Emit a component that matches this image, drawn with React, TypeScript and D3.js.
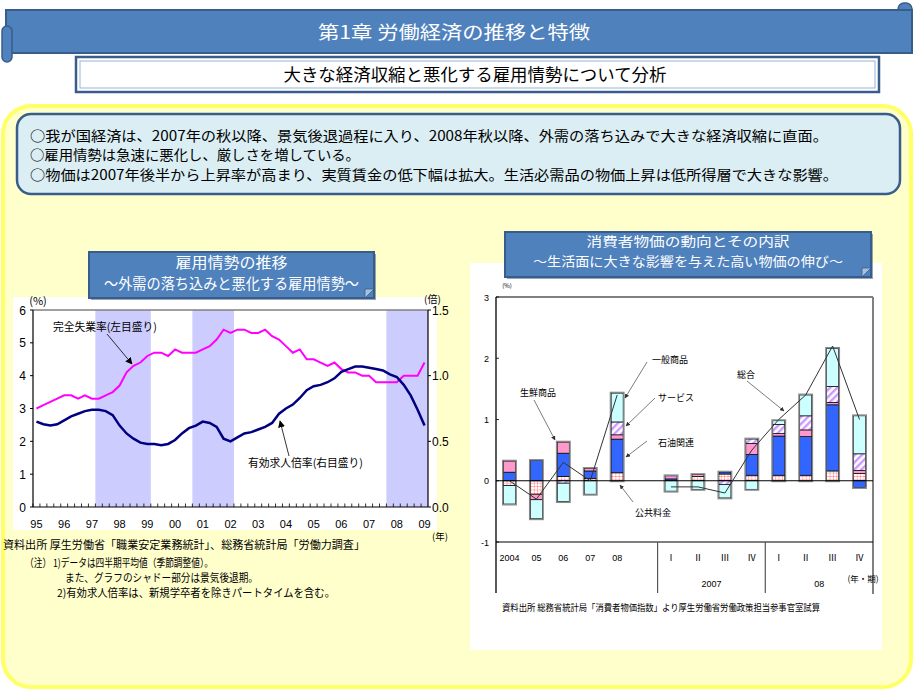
import * as d3 from 'd3';

const JP = '"Noto Sans CJK JP", "Noto Sans", sans-serif';
const NUM = '"Liberation Sans", Arial, sans-serif';

// ---- left chart: 雇用情勢の推移 (quarterly, 1995Q1 - 2009Q1)
const yearLabels = ['95', '96', '97', '98', '99', '00', '01', '02', '03', '04', '05', '06', '07', '08', '09'];
const unemploymentRate = [
  3.0, 3.1, 3.2, 3.3,
  3.4, 3.4, 3.3, 3.4,
  3.3, 3.3, 3.4, 3.5,
  3.7, 4.1, 4.3, 4.4,
  4.6, 4.7, 4.7, 4.6,
  4.8, 4.7, 4.7, 4.7,
  4.8, 4.9, 5.1, 5.4,
  5.3, 5.4, 5.4, 5.3,
  5.3, 5.4, 5.2, 5.1,
  4.9, 4.7, 4.8, 4.5,
  4.5, 4.4, 4.3, 4.4,
  4.2, 4.1, 4.1, 4.0,
  4.0, 3.8, 3.8, 3.8,
  3.8, 4.0, 4.0, 4.0,
  4.4,
];
const jobOpeningsRatio = [
  0.65, 0.63, 0.62, 0.63,
  0.66, 0.69, 0.71, 0.73,
  0.74, 0.74, 0.73, 0.7,
  0.62, 0.56, 0.52, 0.49,
  0.48, 0.48, 0.47, 0.48,
  0.51, 0.56, 0.6, 0.62,
  0.65, 0.64, 0.61, 0.52,
  0.5, 0.53, 0.56, 0.57,
  0.59, 0.61, 0.64, 0.71,
  0.75, 0.78, 0.83, 0.89,
  0.92, 0.93, 0.95, 0.98,
  1.03, 1.05, 1.07, 1.07,
  1.06, 1.05, 1.04, 1.01,
  0.99, 0.93, 0.85, 0.74,
  0.62,
];
const recessionPeriods: [string, string][] = [
  ['97Q2', '99Q1'],
  ['00Q4', '02Q1'],
  ['07Q4', '09Q1'],
];
const leftTicks = [0, 1, 2, 3, 4, 5, 6];
const rightTicks = [0, 0.5, 1.0, 1.5];

// ---- right chart: 消費者物価の動向とその内訳
const cpiKeys = ['2004', '05', '06', '07', '08', 'gap', '07Q1', '07Q2', '07Q3', '07Q4', '08Q1', '08Q2', '08Q3', '08Q4'];
const cpiLabels = ['2004', '05', '06', '07', '08', '', 'Ⅰ', 'Ⅱ', 'Ⅲ', 'Ⅳ', 'Ⅰ', 'Ⅱ', 'Ⅲ', 'Ⅳ'];
const publicFees = [-0.08, -0.22, 0.07, 0.04, 0.13, 0, 0, 0.07, 0.11, 0.09, 0.09, 0.09, 0.16, 0.12];
const oilRelated = [0.14, 0.33, 0.38, 0.12, 0.55, 0, 0.03, 0, 0.03, 0.34, 0.64, 0.63, 1.08, -0.11];
const freshFood = [0.18, -0.09, 0.18, 0.04, 0.07, 0, 0.05, 0.03, 0, 0.18, 0.04, 0.11, 0.04, 0.05];
const services = [0, 0, -0.04, 0, 0.21, 0, 0, 0, -0.06, 0.07, 0.15, 0.23, 0.26, 0.27];
const generalGoods = [-0.3, -0.31, -0.3, -0.22, 0.47, 0, -0.17, -0.14, -0.22, -0.14, 0.06, 0.34, 0.62, 0.62];
const annualKeys = ['2004', '05', '06', '07', '08'];
const totalAnnual = [0.0, -0.3, 0.3, 0.0, 1.4];
const quarterCpiKeys = ['07Q1', '07Q2', '07Q3', '07Q4', '08Q1', '08Q2', '08Q3', '08Q4'];
const totalQuarterly = [-0.1, -0.1, -0.2, 0.5, 1.0, 1.4, 2.2, 1.0];
const cpiTicks = [-1, 0, 1, 2, 3];

const quarterKeys = yearLabels
  .flatMap((y) => ['Q1', 'Q2', 'Q3', 'Q4'].map((q) => y + q))
  .slice(0, unemploymentRate.length);

function LeftChart() {
  const x = d3.scaleBand<string>().domain(quarterKeys).range([33, 428]);
  const bw = x.bandwidth();
  const mid = (k: string) => (x(k) as number) + bw / 2;
  const y = d3.scaleLinear().domain([0, 6]).range([507, 310]);
  const yr = d3.scaleLinear().domain([0, 1.5]).range([507, 310]);

  const uLine = d3.line<number>().x((_, i) => mid(quarterKeys[i])).y((d) => y(d));
  const jLine = d3.line<number>().x((_, i) => mid(quarterKeys[i])).y((d) => yr(d));

  return (
    <g>
      <rect x={13} y={297} width={424} height={233} fill="#fff" />
      {recessionPeriods.map(([a, b]) => (
        <rect
          key={a}
          x={x(a)}
          y={310}
          width={(x(b) as number) + bw - (x(a) as number)}
          height={197}
          fill="#CCCCFF"
        />
      ))}
      <line x1={33} x2={428} y1={310} y2={310} stroke="#808080" strokeWidth={1.5} />
      {quarterKeys.map((k) => (
        <line key={k} x1={x(k)} x2={x(k)} y1={507} y2={503.5} stroke="#000" strokeWidth={0.8} />
      ))}
      <path d={uLine(unemploymentRate) || ''} fill="none" stroke="#FF00FF" strokeWidth={2} />
      <path d={jLine(jobOpeningsRatio) || ''} fill="none" stroke="#000080" strokeWidth={2.5} />

      <line x1={33} x2={33} y1={310} y2={507} stroke="#000" strokeWidth={1.2} />
      <line x1={428} x2={428} y1={310} y2={507} stroke="#000" strokeWidth={1.2} />
      <line x1={33} x2={428} y1={507} y2={507} stroke="#000" strokeWidth={1.2} />

      {leftTicks.map((t) => (
        <g key={t}>
          <line x1={30} x2={33} y1={y(t)} y2={y(t)} stroke="#000" />
          <text x={26} y={y(t) + 4.5} textAnchor="end" fontSize={12} fontFamily={NUM}>{t}</text>
        </g>
      ))}
      {rightTicks.map((t) => (
        <g key={t}>
          <line x1={428} x2={431} y1={yr(t)} y2={yr(t)} stroke="#000" />
          <text x={432} y={yr(t) + 4.5} fontSize={12} fontFamily={NUM}>{t.toFixed(1)}</text>
        </g>
      ))}
      {yearLabels.map((yl) => (
        <text key={yl} x={mid(yl + 'Q1')} y={528} textAnchor="middle" fontSize={11} fontFamily={NUM}>{yl}</text>
      ))}
      <text x={38} y={305} textAnchor="middle" fontSize={11} fontFamily={JP}>(%)</text>
      <text x={424} y={303} fontSize={10} fontFamily={JP}>(倍)</text>
      <text x={440} y={540} textAnchor="middle" fontSize={9.5} fontFamily={JP}>(年)</text>

      <text x={53} y={331} fontSize={11} fontFamily={JP} textLength={104} lengthAdjust="spacingAndGlyphs">完全失業率(左目盛り)</text>
      <line x1={107} y1={334} x2={132} y2={364} stroke="#000" strokeWidth={0.8} markerEnd="url(#arrowBig)" />
      <text x={248} y={467} fontSize={11} fontFamily={JP} textLength={115} lengthAdjust="spacingAndGlyphs">有効求人倍率(右目盛り)</text>
      <line x1={289} y1={456} x2={280} y2={421} stroke="#000" strokeWidth={0.8} markerEnd="url(#arrowBig)" />
    </g>
  );
}

function RightChart() {
  const x = d3.scaleBand<string>().domain(cpiKeys).range([496, 873]);
  const bw = x.bandwidth();
  const barW = 12;
  const mid = (k: string) => (x(k) as number) + bw / 2;
  const y = d3.scaleLinear().domain([-1, 3]).range([542, 297]);

  const compKeys = ['publicFees', 'oil', 'fresh', 'services', 'general'];
  const fills: Record<string, string> = {
    publicFees: 'url(#gridPat)',
    oil: '#3366FF',
    fresh: '#FF99CC',
    services: 'url(#hatchPat)',
    general: '#CCFFFF',
  };
  const rows = cpiKeys.map((k, i) => ({
    key: k,
    publicFees: publicFees[i],
    oil: oilRelated[i],
    fresh: freshFood[i],
    services: services[i],
    general: generalGoods[i],
  }));
  const series = d3.stack<any>().keys(compKeys).offset(d3.stackOffsetDiverging)(rows);

  const totalLine = d3.line<[string, number]>().x((d) => mid(d[0])).y((d) => y(d[1]));
  const annualPts = annualKeys.map((k, i) => [k, totalAnnual[i]] as [string, number]);
  const quarterPts = quarterCpiKeys.map((k, i) => [k, totalQuarterly[i]] as [string, number]);

  const labelStyle = { fontSize: 9, fontFamily: JP };

  return (
    <g>
      <rect x={470} y={263} width={412} height={387} fill="#fff" />
      <line x1={496} x2={873} y1={297} y2={297} stroke="#808080" strokeWidth={2} />
      <line x1={873} x2={873} y1={297} y2={594} stroke="#808080" strokeWidth={2} />

      {series.map((s) => (
        <g key={s.key}>
          {s.map((d, i) =>
            cpiKeys[i] === 'gap' || d[0] === d[1] ? null : (
              <rect
                key={cpiKeys[i]}
                x={mid(cpiKeys[i]) - barW / 2}
                y={y(Math.max(d[0], d[1]))}
                width={barW}
                height={Math.abs(y(d[0]) - y(d[1]))}
                fill={fills[s.key]}
                stroke="#000"
                strokeWidth={0.7}
              />
            )
          )}
        </g>
      ))}
      {cpiKeys.map((k, i) => {
        if (k === 'gap') return null;
        const lo = d3.min(series, (s) => Math.min(s[i][0], s[i][1])) as number;
        const hi = d3.max(series, (s) => Math.max(s[i][0], s[i][1])) as number;
        return (
          <rect
            key={k}
            x={mid(k) - barW / 2 - 0.8}
            y={y(hi) - 0.8}
            width={barW + 1.6}
            height={y(lo) - y(hi) + 1.6}
            fill="none"
            stroke="#888"
            strokeWidth={1.3}
          />
        );
      })}

      <line x1={496} x2={873} y1={y(0)} y2={y(0)} stroke="#000" strokeWidth={1.2} />
      <line x1={496} x2={873} y1={y(-1)} y2={y(-1)} stroke="#000" strokeWidth={1.2} />
      <line x1={496} x2={496} y1={297} y2={593} stroke="#000" strokeWidth={1.3} />
      {['07Q1', '08Q1'].map((k) => (
        <line key={k} x1={x(k)} x2={x(k)} y1={y(-1)} y2={593} stroke="#555" strokeWidth={1.2} />
      ))}

      <path d={totalLine(annualPts) || ''} fill="none" stroke="#333" strokeWidth={1} />
      <path d={totalLine(quarterPts) || ''} fill="none" stroke="#333" strokeWidth={1} />

      {cpiTicks.map((t) => (
        <g key={t}>
          <line x1={496} x2={499} y1={y(t)} y2={y(t)} stroke="#000" strokeWidth={0.8} />
          <text x={489} y={y(t) + 3.5} textAnchor="end" fontSize={9} fontFamily={NUM}>{t}</text>
        </g>
      ))}
      <text x={507} y={288} textAnchor="middle" fontSize={6} fontFamily={JP}>(%)</text>
      {cpiKeys.map((k, i) => (
        <text key={k} x={mid(k)} y={561} textAnchor="middle" fontSize={9} fontFamily={k.includes('Q') ? JP : NUM}>
          {cpiLabels[i]}
        </text>
      ))}
      <text x={((x('07Q1') as number) + (x('07Q4') as number) + bw) / 2} y={587} textAnchor="middle" fontSize={9} fontFamily={NUM}>2007</text>
      <text x={((x('08Q1') as number) + (x('08Q4') as number) + bw) / 2} y={587} textAnchor="middle" fontSize={9} fontFamily={NUM}>08</text>
      <text x={863} y={582} textAnchor="middle" fontSize={8.5} fontFamily={JP}>(年・期)</text>

      <text x={652} y={363} {...labelStyle}>一般商品</text>
      <line x1={647} y1={362} x2={625} y2={398} stroke="#444" strokeWidth={0.7} markerEnd="url(#arrowSmall)" />
      <text x={658} y={401} {...labelStyle}>サービス</text>
      <line x1={655} y1={398} x2={626} y2={426} stroke="#444" strokeWidth={0.7} markerEnd="url(#arrowSmall)" />
      <text x={658} y={446} {...labelStyle}>石油関連</text>
      <line x1={647} y1={441} x2={626} y2={457} stroke="#444" strokeWidth={0.7} markerEnd="url(#arrowSmall)" />
      <text x={520} y={396} {...labelStyle}>生鮮商品</text>
      <line x1={534} y1={400} x2={555} y2={440} stroke="#444" strokeWidth={0.7} markerEnd="url(#arrowSmall)" />
      <text x={635} y={516} {...labelStyle}>公共料金</text>
      <line x1={633} y1={502} x2={620} y2={485} stroke="#444" strokeWidth={0.7} markerEnd="url(#arrowSmall)" />
      <text x={737} y={378} {...labelStyle}>総合</text>
      <line x1={747} y1={381} x2={784} y2={411} stroke="#444" strokeWidth={0.7} markerEnd="url(#arrowSmall)" />

      <text x={502} y={611} fontSize={9.5} fontFamily={JP} textLength={318} lengthAdjust="spacingAndGlyphs">
        資料出所  総務省統計局「消費者物価指数」より厚生労働省労働政策担当参事官室試算
      </text>
    </g>
  );
}

function TitleBox({ x, y, w, h, lines }: { x: number; y: number; w: number; h: number; lines: { text: string; dy: number; len: number; size: number }[] }) {
  return (
    <g>
      <rect x={x + 2} y={y + 2} width={w} height={h} fill="#2C4D75" opacity={0.5} />
      <rect x={x} y={y} width={w} height={h} fill="#4F81BD" stroke="#385D8A" strokeWidth={2} />
      <path d={`M${x + w - 9},${y + h} L${x + w},${y + h - 9} L${x + w - 9},${y + h - 9} Z`} fill="#A7BFDE" stroke="#385D8A" strokeWidth={0.8} />
      {lines.map((l) => (
        <text key={l.text} x={x + w / 2} y={y + l.dy} textAnchor="middle" fill="#fff" fontSize={l.size} fontFamily={JP} textLength={l.len} lengthAdjust="spacingAndGlyphs">
          {l.text}
        </text>
      ))}
    </g>
  );
}

export default function App() {
  return (
    <svg width={916} height={693} style={{ position: 'absolute', left: 0, top: 0, display: 'block' }}>
      <defs>
        <pattern id="gridPat" width={3.4} height={3.4} patternUnits="userSpaceOnUse">
          <rect width={3.4} height={3.4} fill="#fff" />
          <path d="M0,0H3.4M0,0V3.4" stroke="#FF5050" strokeWidth={0.8} />
        </pattern>
        <pattern id="hatchPat" width={5} height={5} patternUnits="userSpaceOnUse" patternTransform="rotate(45)">
          <rect width={5} height={5} fill="#fff" />
          <rect width={2.4} height={5} fill="#CC99FF" />
        </pattern>
        <marker id="arrowBig" viewBox="0 0 10 10" refX={9} refY={5} markerWidth={7} markerHeight={7} orient="auto" markerUnits="userSpaceOnUse">
          <path d="M0,0 L10,5 L0,10 Z" fill="#000" />
        </marker>
        <marker id="arrowSmall" viewBox="0 0 10 10" refX={9} refY={5} markerWidth={4.5} markerHeight={4.5} orient="auto" markerUnits="userSpaceOnUse">
          <path d="M0,0 L10,5 L0,10 Z" fill="#333" />
        </marker>
      </defs>
      <rect width={916} height={693} fill="#fff" />

      {/* banner */}
      <rect x={898} y={3} width={14} height={14} rx={6} fill="#4F81BD" stroke="#385D8A" strokeWidth={1.5} />
      <rect x={6} y={10} width={906} height={43} fill="#4F81BD" stroke="#385D8A" strokeWidth={2} />
      <rect x={2} y={26} width={10} height={36} rx={5} fill="#4F81BD" stroke="#385D8A" strokeWidth={1.5} />
      <text x={454} y={39} textAnchor="middle" fill="#fff" fontSize={18} fontFamily={JP} textLength={272} lengthAdjust="spacingAndGlyphs">
        第1章  労働経済の推移と特徴
      </text>

      <rect x={76} y={57} width={803} height={35} fill="#fff" stroke="#385D8A" strokeWidth={2.5} />
      <rect x={80} y={61} width={795} height={27} fill="none" stroke="#95B3D7" strokeWidth={1} />
      <text x={475} y={81} textAnchor="middle" fontSize={17} fontFamily={JP} textLength={383} lengthAdjust="spacingAndGlyphs">
        大きな経済収縮と悪化する雇用情勢について分析
      </text>

      {/* yellow panel */}
      <rect x={3} y={106} width={908} height={581} rx={28} fill="#FFFFCC" stroke="#FFFF66" strokeWidth={4} />
      <rect x={17} y={114} width={883} height={80} rx={14} fill="#DBEEF4" stroke="#385D8A" strokeWidth={2.5} />
      <text x={30} y={141} fontSize={14} fontFamily={JP} textLength={798} lengthAdjust="spacingAndGlyphs">
        ○我が国経済は、2007年の秋以降、景気後退過程に入り、2008年秋以降、外需の落ち込みで大きな経済収縮に直面。
      </text>
      <text x={30} y={160} fontSize={14} fontFamily={JP} textLength={330} lengthAdjust="spacingAndGlyphs">
        ○雇用情勢は急速に悪化し、厳しさを増している。
      </text>
      <text x={30} y={180} fontSize={14} fontFamily={JP} textLength={808} lengthAdjust="spacingAndGlyphs">
        ○物価は2007年後半から上昇率が高まり、実質賃金の低下幅は拡大。生活必需品の物価上昇は低所得層で大きな影響。
      </text>

      <LeftChart />
      <RightChart />

      <TitleBox
        x={89}
        y={252}
        w={285}
        h={46}
        lines={[
          { text: '雇用情勢の推移', dy: 16, len: 112, size: 14.5 },
          { text: '～外需の落ち込みと悪化する雇用情勢～', dy: 37, len: 255, size: 14.5 },
        ]}
      />
      <TitleBox
        x={505}
        y={232}
        w={366}
        h={45}
        lines={[
          { text: '消費者物価の動向とその内訳', dy: 14, len: 203, size: 13 },
          { text: '～生活面に大きな影響を与えた高い物価の伸び～', dy: 34, len: 310, size: 13 },
        ]}
      />

      {/* notes under left chart */}
      <g fontFamily={JP} fontSize={11}>
        <text x={3} y={549} textLength={362} lengthAdjust="spacingAndGlyphs">資料出所  厚生労働省「職業安定業務統計」、総務省統計局「労働力調査」</text>
        <text x={25} y={567} textLength={188} lengthAdjust="spacingAndGlyphs">（注） 1)データは四半期平均値（季節調整値）。</text>
        <text x={65} y={582} textLength={193} lengthAdjust="spacingAndGlyphs">また、グラフのシャドー部分は景気後退期。</text>
        <text x={57} y={597} textLength={278} lengthAdjust="spacingAndGlyphs">2)有効求人倍率は、新規学卒者を除きパートタイムを含む。</text>
      </g>
    </svg>
  );
}
